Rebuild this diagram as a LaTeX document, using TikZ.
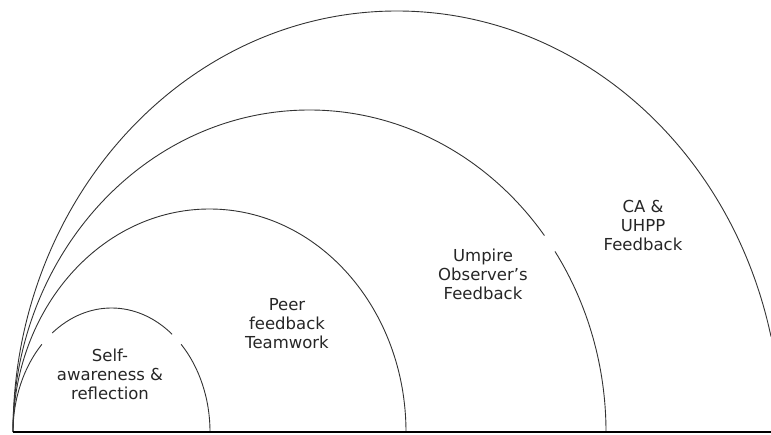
\documentclass[tikz,border=0pt]{standalone}
\usepackage{fontspec}
\setmainfont{DejaVu Sans}
\usetikzlibrary{calc}

\begin{document}
\begin{tikzpicture}[
      x=1pt, y=1pt,
      ring/.style={draw=black!80, line width=0.9pt},
      base/.style={draw=black, line width=1.1pt},
      lbl/.style={font=\fontsize{16.5}{19}\selectfont, align=center, text=black!85}
    ]
    \useasboundingbox (0,0) rectangle (771,434);
    \coordinate (o) at (13,2);
    \coordinate (cs) at (111.5,2);
    \coordinate (cp) at (209.5,2);
    \coordinate (cu) at (309.5,2);
    \coordinate (cb) at (397,2);
    \coordinate (e) at (771,2);
    % self-awareness ring, broken round the text
    \draw[ring] (o) arc[start angle=180, end angle=135, x radius=98.5pt, y radius=124pt];
    \draw[ring] ($(cs)+(127:98.5pt and 124pt)$) arc[start angle=127, end angle=52, x radius=98.5pt, y radius=124pt];
    \draw[ring] ($(cs)+(45:98.5pt and 124pt)$) arc[start angle=45, end angle=0, x radius=98.5pt, y radius=124pt];
    % peer ring
    \draw[ring] (o) arc[start angle=180, end angle=0, x radius=196.5pt, y radius=223pt];
    % umpire ring
    \draw[ring] (o) arc[start angle=180, end angle=37.6, x radius=296.5pt, y radius=322pt];
    \draw[ring] ($(cu)+(34.1:296.5pt and 322pt)$) arc[start angle=34.1, end angle=0, x radius=296.5pt, y radius=322pt];
    % outer ring
    \draw[ring] (o) arc[start angle=180, end angle=13.1, x radius=384pt, y radius=421pt];
    \draw[base] (o) -- (e);
    \node[lbl] (self) at (110,60) {Self-\\awareness \&\\reflection};
    \node[lbl] (peer) at (287,110) {Peer\\feedback\\Teamwork};
    \node[lbl] (ump) at (483,160) {Umpire\\Observer’s\\Feedback};
    \node[lbl] (ca) at (643,209) {CA \&\\UHPP\\Feedback};
  \end{tikzpicture}
\end{document}
